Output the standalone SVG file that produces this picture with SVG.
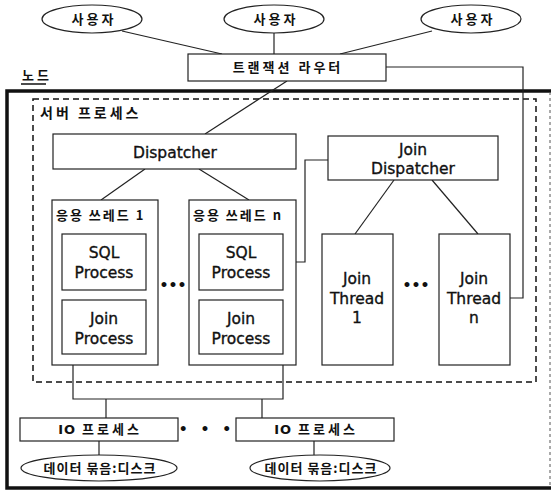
<svg xmlns="http://www.w3.org/2000/svg" width="553" height="492" viewBox="0 0 553 492">
  <style>
    .box { fill: #ffffff; stroke: #222222; stroke-width: 1.2; }
    .ell { fill: #ffffff; stroke: #222222; stroke-width: 1.2; }
    .wire { fill: none; stroke: #222222; stroke-width: 1.2; }
    .ko { font-family: "Noto Sans CJK KR", "DejaVu Sans", sans-serif; font-size: 13px; font-weight: 600; fill: #111111; letter-spacing: 3px; }
    .en { font-family: "DejaVu Sans", "Liberation Sans", sans-serif; font-size: 15.5px; fill: #111111; stroke: #111111; stroke-width: 0.35; text-anchor: middle; }
    .dots { font-family: "DejaVu Sans", sans-serif; font-size: 14px; font-weight: bold; fill: #111111; text-anchor: middle; }
    .mid { text-anchor: middle; }
    .io { font-family: "DejaVu Sans", sans-serif; font-weight: bold; letter-spacing: 1px; }
  </style>

  <rect width="553" height="492" fill="#ffffff"/>

  <!-- node frame -->
  <g id="node-frame">
    <text class="ko" x="22" y="80">노드</text>
    <line x1="21" y1="84" x2="46" y2="84" stroke="#111" stroke-width="1.5"/>
    <path d="M551,91 H7 V488 H551" fill="none" stroke="#111111" stroke-width="3.5"/>
    <line x1="550" y1="92" x2="550" y2="488" stroke="#555555" stroke-width="1" stroke-dasharray="3,3"/>
  </g>

  <!-- server process -->
  <g id="server-process">
    <rect x="33" y="99" width="503" height="283" fill="none" stroke="#111111" stroke-width="1.5" stroke-dasharray="6,4"/>
    <text class="ko" x="40" y="118" style="font-size:14px">서버 프로세스</text>
  </g>

  <!-- connectors -->
  <g id="connectors">
    <line class="wire" x1="122" y1="31" x2="222" y2="54"/>
    <line class="wire" x1="274" y1="33" x2="274" y2="54"/>
    <line class="wire" x1="432" y1="31" x2="340" y2="54"/>
    <line class="wire" x1="287" y1="81" x2="205" y2="134"/>
    <path class="wire" d="M386,67 H523 V298 H510"/>
    <line class="wire" x1="145" y1="169" x2="101" y2="200"/>
    <line class="wire" x1="199" y1="169" x2="249" y2="200"/>
    <path class="wire" d="M283,262 H305 V160 H328"/>
    <line class="wire" x1="394" y1="180" x2="355" y2="234"/>
    <line class="wire" x1="432" y1="180" x2="478" y2="234"/>
    <path class="wire" d="M73,365 V399 H283 V365"/>
    <line class="wire" x1="106" y1="399" x2="106" y2="418"/>
    <line class="wire" x1="262" y1="399" x2="262" y2="418"/>
    <line class="wire" x1="99" y1="441" x2="99" y2="455"/>
    <line class="wire" x1="314" y1="441" x2="314" y2="455"/>
  </g>

  <!-- users -->
  <g id="user-1">
    <ellipse class="ell" cx="92" cy="19" rx="50" ry="14"/>
    <text class="ko mid" x="94" y="24">사용자</text>
  </g>
  <g id="user-2">
    <ellipse class="ell" cx="274" cy="19" rx="50" ry="14"/>
    <text class="ko mid" x="276" y="24">사용자</text>
  </g>
  <g id="user-3">
    <ellipse class="ell" cx="471" cy="19" rx="50" ry="14"/>
    <text class="ko mid" x="473" y="24">사용자</text>
  </g>

  <!-- transaction router -->
  <g id="router">
    <rect class="box" x="188" y="54" width="198" height="27"/>
    <text class="ko mid" x="288" y="72">트랜잭션 라우터</text>
  </g>

  <!-- dispatcher -->
  <g id="dispatcher">
    <rect class="box" x="53" y="134" width="243" height="35"/>
    <text class="en" x="175" y="158">Dispatcher</text>
  </g>

  <!-- join dispatcher -->
  <g id="join-dispatcher">
    <rect class="box" x="328" y="136" width="170" height="44"/>
    <text class="en" x="413" y="155">Join</text>
    <text class="en" x="413" y="174">Dispatcher</text>
  </g>

  <!-- application thread 1 -->
  <g id="app-thread-1">
    <rect class="box" x="52" y="200" width="106" height="165"/>
    <text class="ko" x="56" y="220" style="letter-spacing:2px">응용 쓰레드 1</text>
    <rect class="box" x="62" y="234" width="84" height="56"/>
    <text class="en" x="104" y="258">SQL</text>
    <text class="en" x="104" y="278">Process</text>
    <rect class="box" x="62" y="300" width="84" height="54"/>
    <text class="en" x="104" y="324">Join</text>
    <text class="en" x="104" y="344">Process</text>
  </g>

  <text class="dots" x="173" y="290">•••</text>

  <!-- application thread n -->
  <g id="app-thread-n">
    <rect class="box" x="189" y="200" width="107" height="165"/>
    <text class="ko" x="193" y="220" style="letter-spacing:2px">응용 쓰레드 n</text>
    <rect class="box" x="199" y="234" width="84" height="56"/>
    <text class="en" x="241" y="258">SQL</text>
    <text class="en" x="241" y="278">Process</text>
    <rect class="box" x="199" y="300" width="84" height="54"/>
    <text class="en" x="241" y="324">Join</text>
    <text class="en" x="241" y="344">Process</text>
  </g>

  <!-- join threads -->
  <g id="join-thread-1">
    <rect class="box" x="322" y="234" width="71" height="131"/>
    <text class="en" x="357" y="284">Join</text>
    <text class="en" x="357" y="304">Thread</text>
    <text class="en" x="357" y="323">1</text>
  </g>

  <text class="dots" x="416" y="290">•••</text>

  <g id="join-thread-n">
    <rect class="box" x="439" y="234" width="71" height="131"/>
    <text class="en" x="474" y="284">Join</text>
    <text class="en" x="474" y="304">Thread</text>
    <text class="en" x="474" y="323">n</text>
  </g>

  <!-- IO processes -->
  <g id="io-process-1">
    <rect class="box" x="20" y="418" width="158" height="23"/>
    <text class="ko mid" x="100" y="434"><tspan class="io">IO</tspan> 프로세스</text>
  </g>

  <text class="dots" x="207" y="434" style="letter-spacing:4px">• • •</text>

  <g id="io-process-2">
    <rect class="box" x="236" y="418" width="158" height="23"/>
    <text class="ko mid" x="316" y="434"><tspan class="io">IO</tspan> 프로세스</text>
  </g>

  <!-- data bundles -->
  <g id="disk-1">
    <ellipse class="ell" cx="99" cy="468" rx="78" ry="13"/>
    <text class="ko mid" x="100" y="473" style="letter-spacing:1px">데이터 묶음:디스크</text>
  </g>
  <g id="disk-2">
    <ellipse class="ell" cx="320" cy="468" rx="70" ry="13"/>
    <text class="ko mid" x="321" y="473" style="letter-spacing:1px">데이터 묶음:디스크</text>
  </g>
</svg>
